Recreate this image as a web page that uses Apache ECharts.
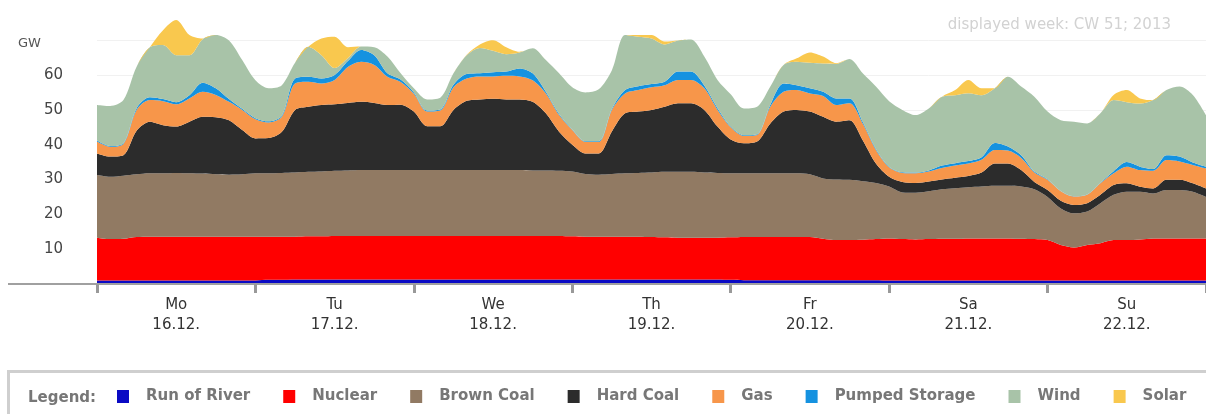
<!DOCTYPE html>
<html>
<head>
<meta charset="utf-8">
<script src="https://cdn.jsdelivr.net/npm/echarts@6/dist/echarts.min.js"></script>
<style>
html,body{margin:0;padding:0;background:#fff;}
#chart{width:1206px;height:414px;}
</style>
</head>
<body>
<div id="chart"></div>
<script>
// 2-hourly time steps over the week (hours since Mon 00:00)
var hours = [];
for (var h = 0; h <= 168; h += 2) hours.push(String(h));

var dayLabels = ['Mo\n16.12.', 'Tu\n17.12.', 'We\n18.12.', 'Th\n19.12.', 'Fr\n20.12.', 'Sa\n21.12.', 'Su\n22.12.'];
var seriesNames = ['Run of River', 'Nuclear', 'Brown Coal', 'Hard Coal', 'Gas', 'Pumped Storage', 'Wind', 'Solar'];
var yTicks = [10, 20, 30, 40, 50, 60];

var runOfRiver = [1.0,1.0,1.0,1.0,1.0,1.0,1.0,1.0,1.0,1.0,1.0,1.0,1.0,
  1.2,1.2,1.3,1.3,1.3,1.3,1.3,1.3,1.3,1.3,1.3,1.3,
  1.3,1.3,1.3,1.3,1.3,1.3,1.3,1.3,1.3,1.3,1.3,1.3,
  1.3,1.3,1.3,1.3,1.3,1.3,1.3,1.3,1.3,1.3,1.3,1.2,
  1.1,1.1,1.1,1.1,1.1,1.1,1.1,1.1,1.1,1.1,1.1,1.0,
  1.0,1.0,1.0,1.0,1.0,1.0,1.0,1.0,1.0,1.0,1.0,1.0,
  1.0,1.0,1.0,1.0,1.0,1.0,1.0,1.0,1.0,1.0,1.0,1.0];
var nuclear = [12.3,11.9,12.0,12.5,12.6,12.6,12.6,12.6,12.6,12.6,12.6,12.6,12.6,
  12.4,12.4,12.3,12.4,12.4,12.5,12.5,12.5,12.5,12.5,12.5,12.5,
  12.5,12.5,12.5,12.5,12.5,12.5,12.5,12.5,12.5,12.5,12.5,12.4,
  12.3,12.3,12.3,12.3,12.3,12.2,12.1,12.0,12.0,12.0,12.0,12.2,
  12.4,12.4,12.4,12.4,12.4,12.4,11.9,11.5,11.5,11.6,11.8,12.1,
  11.9,11.8,11.9,12.0,12.0,12.1,12.1,12.1,12.1,12.0,11.9,11.6,
  10.2,9.5,10.2,10.7,11.6,11.6,11.8,12.1,12.1,12.1,12.1,12.1];
var brownCoal = [18.0,17.9,18.1,18.0,18.2,18.2,18.3,18.2,18.1,17.9,17.8,17.9,18.2,
  18.2,18.3,18.4,18.5,18.6,18.7,18.8,18.9,18.9,18.9,18.9,18.9,
  18.9,18.9,18.9,18.9,18.9,18.9,18.9,18.9,18.8,18.8,18.7,18.6,
  18.0,17.8,18.0,18.2,18.3,18.5,18.8,18.9,18.9,18.7,18.6,18.4,
  18.3,18.3,18.3,18.3,18.3,18.0,17.3,17.4,17.3,16.8,16.1,14.9,
  13.4,13.4,13.7,14.2,14.5,14.7,14.9,15.1,15.1,15.0,14.3,12.4,
  10.5,9.8,9.6,11.5,13.0,13.9,13.7,12.9,13.9,13.9,13.4,11.9];
var hardCoal = [6.2,5.8,5.9,12.5,14.8,13.8,13.3,14.8,16.3,16.4,15.6,12.7,10.0,
  10.1,11.8,18.0,18.7,19.1,19.1,19.4,19.6,19.3,18.7,18.8,16.8,
  12.6,12.6,17.3,19.9,20.3,20.5,20.3,20.3,19.7,16.4,11.2,7.7,
  5.9,6.1,12.2,17.2,17.6,18.0,18.7,19.7,19.7,18.0,13.3,9.7,
  8.6,9.1,14.3,17.7,18.2,18.0,17.7,16.6,17.1,11.8,5.6,2.8,
  3.0,2.8,2.8,2.8,3.0,3.2,4.0,6.4,6.4,4.7,2.1,2.0,
  2.2,2.4,2.4,2.4,2.8,2.4,1.4,1.4,2.9,2.9,2.4,2.4];
var gas = [3.4,2.8,3.2,6.0,6.2,6.9,6.4,6.7,7.2,6.4,5.3,5.8,5.5,
  4.5,4.3,7.6,7.2,6.2,7.0,10.3,11.5,10.9,8.1,6.5,5.1,
  4.2,4.5,6.5,6.4,6.6,6.4,6.8,6.6,6.2,5.7,4.8,4.2,
  3.3,3.3,6.2,5.7,6.2,6.5,6.2,6.7,6.7,6.2,4.8,3.5,
  2.1,1.9,4.8,5.7,5.7,5.2,6.0,4.8,4.9,4.8,3.9,2.7,
  2.6,2.8,2.9,3.3,3.5,3.6,3.7,3.9,3.7,3.5,2.7,2.9,
  2.7,2.4,2.4,3.3,3.4,4.8,4.8,5.1,5.7,5.3,5.3,5.8];
var pumpedStorage = [0.3,0.2,0.2,0.5,0.8,0.6,0.6,0.9,2.6,1.9,0.8,0.3,0.3,
  0.3,0.3,1.4,1.4,1.4,1.4,1.7,3.4,2.8,1.0,0.7,0.4,
  0.3,0.3,0.7,1.3,0.9,1.2,1.2,2.3,2.0,0.5,0.3,0.2,
  0.2,0.2,0.3,1.0,1.1,0.9,1.0,2.4,2.4,0.8,0.5,0.2,
  0.2,0.2,0.6,2.4,1.4,1.5,1.2,1.9,1.4,0.5,0.3,0.2,
  0.2,0.2,0.3,0.7,0.7,0.7,0.7,2.0,1.2,0.8,0.3,0.2,
  0.1,0.1,0.1,0.2,0.6,1.3,1.0,0.5,1.4,1.4,0.7,0.5];
var wind = [10.2,11.5,12.4,11.9,14.4,15.5,13.5,11.5,12.5,15.3,16.8,14.0,10.9,
  9.5,8.8,4.5,8.6,6.7,2.0,0.8,1.0,2.3,4.8,1.8,1.2,
  3.2,3.4,3.3,5.4,7.3,6.2,5.0,4.6,7.2,9.1,11.7,12.1,
  14.0,14.9,11.1,15.8,14.2,13.1,10.7,8.9,9.2,8.3,8.1,9.3,
  7.7,7.9,5.2,5.3,6.7,7.3,8.1,9.9,11.3,13.9,17.9,18.8,
  17.9,16.5,17.8,19.8,19.5,19.5,17.8,15.7,20.0,19.7,21.5,19.4,
  20.3,21.4,20.4,19.9,20.4,17.2,18.1,19.8,18.7,20.1,19.4,14.8];
var solar = [0,0,0,0,0,4.3,10.1,5.8,0.2,0,0,0,0,
  0,0,0,0,4.8,9.0,3.2,0,0,0,0,0,
  0,0,0,0.1,1.0,3.0,2.0,0.2,0,0,0,0,
  0,0,0,0,0.5,1.0,0.8,0,0,0,0,0,
  0,0,0,0,1.0,3.0,2.0,0.2,0,0,0,0,
  0,0,0,0,1.5,3.8,2.0,0,0,0,0,0,
  0,0,0,0,1.5,3.5,1.5,0,0,0,0,0];

var seriesData = [runOfRiver, nuclear, brownCoal, hardCoal, gas, pumpedStorage, wind, solar];
var colors = ['#0a0ac4', '#ff0000', '#917a63', '#2c2c2c', '#f7964a', '#1592e0', '#a8c3a8', '#f9c84e'];

var chart = echarts.init(document.getElementById('chart'), null, {renderer: 'canvas'});
var fontFam = 'Verdana, "DejaVu Sans", sans-serif';

var series = seriesNames.map(function (name, i) {
  return {
    name: name,
    type: 'line',
    stack: 'total',
    xAxisIndex: 0,
    symbol: 'none',
    smooth: 0.3,
    lineStyle: {width: 0, color: colors[i]},
    itemStyle: {color: colors[i]},
    areaStyle: {color: colors[i], opacity: 1},
    emphasis: {disabled: true},
    data: seriesData[i]
  };
});

// grid lines at 0..80; the line at 80 is not drawn
var splitColors = ['#f1f1f1', '#f1f1f1', '#f1f1f1', '#f1f1f1', '#f1f1f1', '#f1f1f1', '#f1f1f1', '#f1f1f1', 'rgba(0,0,0,0)'];

chart.setOption({
  animation: false,
  title: [
    {text: 'GW', left: 13, top: 32, textStyle: {fontFamily: fontFam, fontSize: 13, fontWeight: 'normal', color: '#555'}},
    {text: 'displayed week: CW 51; 2013', right: 30, top: 13, textStyle: {fontFamily: fontFam, fontSize: 15, fontWeight: 'normal', color: '#d2d2d2'}},
    {text: 'Legend:', left: 23, top: 386, textStyle: {fontFamily: fontFam, fontSize: 15, fontWeight: 'bold', color: '#777'}}
  ],
  graphic: [
    {type: 'rect', z: -10, silent: true, shape: {x: 8.5, y: 371.5, width: 1220, height: 80}, style: {fill: '#fff', stroke: '#cfcfcf', lineWidth: 3}},
    {type: 'line', z: 10, silent: true, shape: {x1: 8, y1: 284, x2: 98, y2: 284}, style: {stroke: '#a0a0a0', lineWidth: 2}}
  ],
  legend: {
    data: seriesNames,
    left: 117,
    top: 389,
    padding: 0,
    icon: 'rect',
    itemWidth: 12,
    itemHeight: 13,
    itemGap: 33,
    selectedMode: false,
    textStyle: {fontFamily: fontFam, fontSize: 15, fontWeight: 'bold', color: '#777', padding: [0, 0, 0, 12]}
  },
  grid: {left: 97, right: -3, top: 5.4, bottom: 130, containLabel: false},
  xAxis: [
    {
      type: 'category',
      data: hours,
      boundaryGap: false,
      show: false
    },
    {
      type: 'category',
      data: dayLabels,
      position: 'bottom',
      offset: 0,
      boundaryGap: true,
      axisLine: {show: true, lineStyle: {color: '#a0a0a0', width: 2}},
      axisTick: {show: true, length: 9, inside: false, interval: 0, lineStyle: {color: '#999', width: 3}},
      axisLabel: {show: true, interval: 0, margin: 11, fontFamily: fontFam, fontSize: 15, lineHeight: 20, color: '#333'},
      splitLine: {show: false},
      z: 10
    }
  ],
  yAxis: {
    type: 'value',
    min: 0,
    max: 80,
    interval: 10,
    axisLine: {show: false},
    axisTick: {show: false},
    axisLabel: {
      margin: 34,
      fontFamily: fontFam,
      fontSize: 15,
      color: '#444',
      formatter: function (v) { return yTicks.indexOf(v) >= 0 ? String(v) : ''; }
    },
    splitLine: {show: true, lineStyle: {color: splitColors, width: 1}}
  },
  series: series
});
</script>
</body>
</html>
